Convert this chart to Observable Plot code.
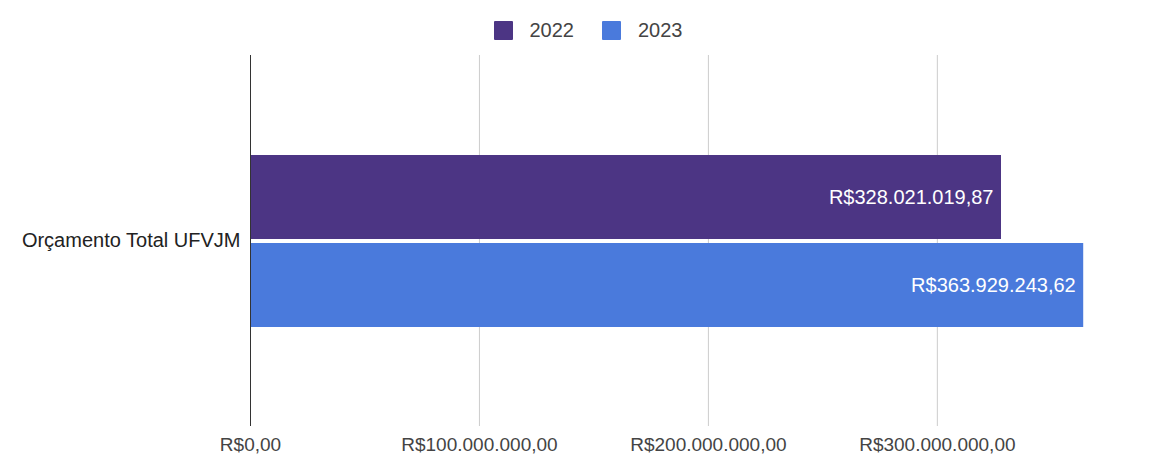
<!DOCTYPE html>
<html>
<head>
<meta charset="utf-8">
<script src="https://cdn.jsdelivr.net/npm/d3@7"></script>
<script src="https://cdn.jsdelivr.net/npm/@observablehq/plot@0.6"></script>
<style>
  html, body { margin: 0; padding: 0; background: #fff; }
  body { width: 1150px; height: 457px; overflow: hidden; font-family: "Liberation Sans", Arial, sans-serif; }
  #legend { height: 55px; display: flex; justify-content: center; align-items: center; font-size: 20px; color: #444; padding-left: 26px; padding-top: 5px; box-sizing: border-box; }
  .item { display: flex; align-items: center; margin: 0 14px; }
  .sw { width: 19px; height: 19px; margin-right: 17px; border-radius: 1px; }
</style>
</head>
<body>
<div id="legend"></div>
<div id="chart"></div>
<script>
const category = "Orçamento Total UFVJM";
const years = ["2022", "2023"];
const values = [328021019.87, 363929243.62];
const colors = ["#4c3584", "#4a7adc"];
const xTicks = [0, 100000000, 200000000, 300000000];

const locale = d3.formatLocale({decimal: ",", thousands: ".", grouping: [3], currency: ["R$", ""]});
const fmt = locale.format("$,.2f");

const data = years.map((y, i) => ({year: y, value: values[i], category}));

const legend = document.getElementById("legend");
years.forEach((y, i) => {
  const it = document.createElement("div");
  it.className = "item";
  it.innerHTML = `<span class="sw" style="background:${colors[i]}"></span><span>${y}</span>`;
  legend.appendChild(it);
});

const chart = Plot.plot({
  width: 1150,
  height: 402,
  marginLeft: 250,
  marginRight: 30,
  marginTop: 0,
  marginBottom: 31,
  style: {fontFamily: "Liberation Sans, Arial, sans-serif", fontSize: "19px", color: "#444", background: "#fff"},
  x: {domain: [0, 380000000], ticks: xTicks, tickFormat: fmt, tickSize: 0, tickPadding: 11, label: null},
  y: {domain: years, range: [100, 273], paddingInner: 0.045, paddingOuter: 0, axis: null},
  color: {domain: years, range: colors},
  marks: [
    Plot.gridX(xTicks.slice(1), {stroke: "#ccc", strokeOpacity: 1}),
    Plot.barX(data, {x: "value", y: "year", fill: "year"}),
    Plot.ruleX([0], {stroke: "#333", strokeWidth: 1}),
    Plot.text(data, {x: "value", y: "year", text: d => fmt(d.value), textAnchor: "end", dx: -8, fill: "#fff", fontSize: 20}),
    Plot.text([category], {frameAnchor: "left", text: d => d, textAnchor: "end", dx: -10, fill: "#222", fontSize: 20})
  ]
});
document.getElementById("chart").appendChild(chart);
</script>
</body>
</html>
